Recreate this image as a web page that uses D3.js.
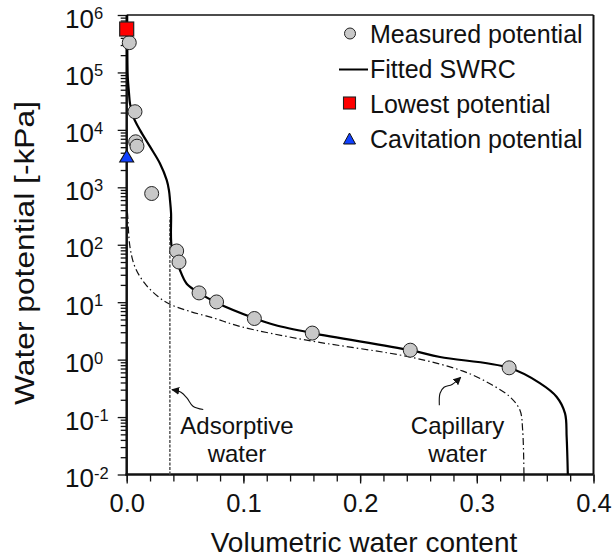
<!DOCTYPE html>
<html>
<head>
<meta charset="utf-8">
<script src="https://cdn.jsdelivr.net/npm/d3@7"></script>
<style>
  body { margin: 0; background: #fff; }
  svg text { font-family: "Liberation Sans", Arial, Helvetica, sans-serif; fill: #111; }
</style>
</head>
<body>
<svg id="chart" width="613" height="560"></svg>
<script>
// ---------------- data ----------------
const measuredTheta = [0.0022, 0.0071, 0.0077, 0.0088, 0.0214, 0.0428, 0.0448, 0.062, 0.077, 0.1094, 0.159, 0.243, 0.3277];
const measuredPsi   = [3.3e5, 2.07e4, 6.2e3, 5.2e3, 780, 78, 50, 14.5, 10.1, 5.2, 2.9, 1.46, 0.72];

const fittedTheta = [0.0004, 0.0006, 0.0009, 0.002, 0.0028, 0.0057, 0.0114, 0.020, 0.0285, 0.0343, 0.0362, 0.0371, 0.038, 0.0386, 0.0414, 0.0457, 0.0514, 0.0614, 0.0757, 0.110, 0.127, 0.159, 0.243, 0.2685, 0.3277, 0.354, 0.3685, 0.3756, 0.377, 0.378];
const fittedPsi   = [1e6, 1.6e5, 8.4e4, 4.3e4, 2.9e4, 1.69e4, 9.9e3, 5.1e3, 2.6e3, 1.33e3, 890, 600, 355, 92, 71, 36, 21, 14.8, 10.1, 5.2, 4.0, 2.9, 1.46, 1.11, 0.72, 0.39, 0.224, 0.116, 0.045, 0.01];

const capillaryTheta = [0.0006, 0.0009, 0.0028, 0.0071, 0.0157, 0.0271, 0.0371, 0.0528, 0.0757, 0.0985, 0.1542, 0.2428, 0.2882, 0.3113, 0.3285, 0.337, 0.3393, 0.3404];
const capillaryPsi   = [370, 306, 92, 41, 21, 12.4, 9.2, 7.05, 5.2, 3.72, 2.18, 1.11, 0.63, 0.38, 0.224, 0.131, 0.059, 0.01];

const lowestTheta = [0];
const lowestPsi = [5.7e5];
const cavitationTheta = [0];
const cavitationPsi = [3.5e3];

const adsorptiveLimitTheta = 0.037;
const adsorptiveLimitPsi = [0.01, 300];

const xTickValues = [0, 0.1, 0.2, 0.3, 0.4];
const xTickLabels = ["0.0", "0.1", "0.2", "0.3", "0.4"];
const yTickExponents = [-2, -1, 0, 1, 2, 3, 4, 5, 6];

const legendLabels = ["Measured potential", "Fitted SWRC", "Lowest potential", "Cavitation potential"];

const xTitle = "Volumetric water content";
const yTitle = "Water potential [-kPa]";

// annotation anchors in data units
const adsorptiveText = { theta: 0.0945, lines: ["Adsorptive", "water"] };
const capillaryText  = { theta: 0.2835, lines: ["Capillary", "water"] };
const adsorptiveArrowTheta = [0.0656, 0.0568, 0.0517, 0.0465, 0.0388];
const adsorptiveArrowPsi   = [0.135, 0.154, 0.213, 0.27, 0.30];
const capillaryArrowTheta  = [0.2679, 0.2685, 0.2719, 0.2788, 0.2862];
const capillaryArrowPsi    = [0.161, 0.26, 0.33, 0.37, 0.49];

// ---------------- layout ----------------
const svg = d3.select("#chart");
const plotLeft = 126.7, plotRight = 593.5, plotTop = 15, plotBottom = 474.5;

const x = d3.scaleLinear().domain([0, 0.4]).range([plotLeft, plotRight]);
const y = d3.scaleLog().domain([1e-2, 1e6]).range([plotBottom, plotTop]);

const defs = svg.append("defs");
defs.append("marker")
  .attr("id", "ah").attr("viewBox", "0 0 10 10").attr("refX", 9).attr("refY", 5)
  .attr("markerWidth", 8).attr("markerHeight", 8).attr("markerUnits", "userSpaceOnUse")
  .attr("orient", "auto")
  .append("path").attr("d", "M0,0 L10,5 L0,10 z").attr("fill", "#111");

// frame (top & right)
svg.append("line").attr("x1", plotLeft).attr("x2", x(0.4)).attr("y1", plotTop).attr("y2", plotTop)
  .attr("stroke", "#111").attr("stroke-width", 1.5);
svg.append("line").attr("x1", x(0.4)).attr("x2", x(0.4)).attr("y1", plotTop).attr("y2", plotBottom)
  .attr("stroke", "#111").attr("stroke-width", 2);

// ---- x axis ----
const xMinor = d3.range(0, 21).map(i => i * 0.02);
const gxMinor = svg.append("g").attr("transform", `translate(0,${plotBottom})`)
  .call(d3.axisBottom(x).tickValues(xMinor).tickSize(7).tickFormat(""));
const gxMajor = svg.append("g").attr("transform", `translate(0,${plotBottom})`)
  .call(d3.axisBottom(x).tickValues(xTickValues).tickSize(9).tickPadding(2)
    .tickFormat((d, i) => xTickLabels[i]));
[gxMinor, gxMajor].forEach(g => {
  g.select(".domain").remove();
  g.selectAll(".tick line").attr("stroke", "#111").attr("stroke-width", 1.3);
});
gxMajor.selectAll(".tick text")
  .attr("y", 512 - plotBottom).attr("dy", 0)
  .style("font-size", "25.5px").style("font-family", '"Liberation Sans", Arial, sans-serif')
  .attr("fill", "#111");

// ---- y axis ----
const yMinor = [];
yTickExponents.slice(0, -1).forEach(e => { for (let k = 2; k <= 9; k++) yMinor.push(k * Math.pow(10, e)); });
const gyMinor = svg.append("g").attr("transform", `translate(${plotLeft},0)`)
  .call(d3.axisLeft(y).tickValues(yMinor).tickSize(6).tickFormat(""));
const gyMajor = svg.append("g").attr("transform", `translate(${plotLeft},0)`)
  .call(d3.axisLeft(y).tickValues(yTickExponents.map(e => Math.pow(10, e))).tickSize(9).tickFormat(""));
[gyMinor, gyMajor].forEach(g => {
  g.select(".domain").remove();
  g.selectAll(".tick line").attr("stroke", "#111").attr("stroke-width", 1.3);
});
const yLab = svg.append("g");
yTickExponents.forEach(e => {
  const t = yLab.append("text").attr("x", 65).attr("y", y(Math.pow(10, e)) + 12.5)
    .style("font-size", "26px");
  t.append("tspan").text("10");
  t.append("tspan").attr("dy", -8.5).style("font-size", "16.5px").text(String(e));
});

// axis lines (thick)
svg.append("line").attr("x1", plotLeft).attr("x2", plotLeft).attr("y1", plotTop).attr("y2", plotBottom + 1.2)
  .attr("stroke", "#111").attr("stroke-width", 2.5);
svg.append("line").attr("x1", plotLeft - 1.2).attr("x2", x(0.4)).attr("y1", plotBottom).attr("y2", plotBottom)
  .attr("stroke", "#111").attr("stroke-width", 2.5);

// ---- titles ----
svg.append("text").attr("x", 364).attr("y", 551.5).attr("text-anchor", "middle")
  .style("font-size", "28px").text(xTitle);
svg.append("text").attr("transform", "translate(34,253) rotate(-90)").attr("text-anchor", "middle")
  .attr("textLength", 304).attr("lengthAdjust", "spacingAndGlyphs")
  .style("font-size", "28px").text(yTitle);

// ---- adsorptive limit line ----
svg.append("line")
  .attr("x1", x(adsorptiveLimitTheta)).attr("x2", x(adsorptiveLimitTheta))
  .attr("y1", y(adsorptiveLimitPsi[0])).attr("y2", y(adsorptiveLimitPsi[1]))
  .attr("stroke", "#555").attr("stroke-width", 1.5).attr("stroke-dasharray", "3,1.5");

// ---- capillary (dash-dot) ----
const line = d3.line().x(d => x(d[0])).y(d => y(d[1])).curve(d3.curveCatmullRom.alpha(0.5));
svg.append("path").datum(d3.zip(capillaryTheta, capillaryPsi))
  .attr("d", line).attr("fill", "none").attr("stroke", "#111")
  .attr("stroke-width", 1.2).attr("stroke-dasharray", "7,3,1.5,3");

// ---- fitted curve ----
svg.append("path").datum(d3.zip(fittedTheta, fittedPsi))
  .attr("d", line).attr("fill", "none").attr("stroke", "#000").attr("stroke-width", 2.2);

// ---- annotations ----
svg.append("path").datum(d3.zip(adsorptiveArrowTheta, adsorptiveArrowPsi))
  .attr("d", line).attr("fill", "none").attr("stroke", "#111").attr("stroke-width", 1.1)
  .attr("marker-end", "url(#ah)");
svg.append("path").datum(d3.zip(capillaryArrowTheta, capillaryArrowPsi))
  .attr("d", line).attr("fill", "none").attr("stroke", "#111").attr("stroke-width", 1.1)
  .attr("marker-end", "url(#ah)");
[adsorptiveText, capillaryText].forEach(a => {
  a.lines.forEach((s, i) => {
    svg.append("text").attr("x", x(a.theta)).attr("y", 434 + i * 28).attr("text-anchor", "middle")
      .style("font-size", "24px").text(s);
  });
});

// ---- measured points ----
svg.append("g").selectAll("circle").data(d3.zip(measuredTheta, measuredPsi)).join("circle")
  .attr("cx", d => x(d[0])).attr("cy", d => y(d[1])).attr("r", 7)
  .attr("fill", "#c8c8c8").attr("stroke", "#222").attr("stroke-width", 1);

// ---- lowest potential (square) ----
svg.append("g").selectAll("rect").data(d3.zip(lowestTheta, lowestPsi)).join("rect")
  .attr("x", d => x(d[0]) - 7).attr("y", d => y(d[1]) - 7).attr("width", 14).attr("height", 14)
  .attr("fill", "#ff0000").attr("stroke", "#222").attr("stroke-width", 1.2);

// ---- cavitation potential (triangle) ----
const tri = (cx, cy, w, h) => `M${cx - w / 2},${cy + h / 2} L${cx + w / 2},${cy + h / 2} L${cx},${cy - h / 2} Z`;
svg.append("g").selectAll("path").data(d3.zip(cavitationTheta, cavitationPsi)).join("path")
  .attr("d", d => tri(x(d[0]), y(d[1]), 14, 12))
  .attr("fill", "#1040ff").attr("stroke", "#111").attr("stroke-width", 1.1);

// ---- legend ----
const lg = svg.append("g");
const rowY = i => 43 + i * 35;
lg.append("circle").attr("cx", 350).attr("cy", rowY(0) - 9.5).attr("r", 5.5)
  .attr("fill", "#c8c8c8").attr("stroke", "#222").attr("stroke-width", 1);
lg.append("line").attr("x1", 339).attr("x2", 368).attr("y1", rowY(1) - 8.5).attr("y2", rowY(1) - 8.5)
  .attr("stroke", "#000").attr("stroke-width", 2);
lg.append("rect").attr("x", 343.5).attr("y", rowY(2) - 16).attr("width", 12).attr("height", 12)
  .attr("fill", "#ff0000").attr("stroke", "#222").attr("stroke-width", 1.1);
lg.append("path").attr("d", tri(349.5, rowY(3) - 9.5, 12, 11))
  .attr("fill", "#1040ff").attr("stroke", "#111").attr("stroke-width", 1);
legendLabels.forEach((s, i) => {
  lg.append("text").attr("x", 370).attr("y", rowY(i)).style("font-size", "25px").text(s);
});
</script>
</body>
</html>
